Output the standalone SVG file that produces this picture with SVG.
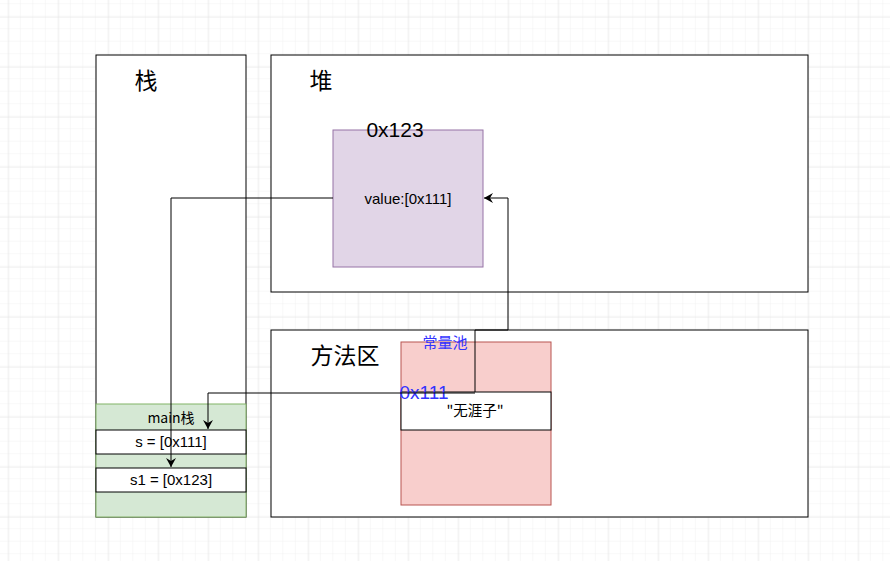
<svg xmlns="http://www.w3.org/2000/svg" width="890" height="561" viewBox="0 0 890 561">
<defs>
<pattern id="minor" x="8.3" y="4.2" width="12.5" height="12.5" patternUnits="userSpaceOnUse">
<path d="M12.5 0V12.5M0 12.5H12.5" fill="none" stroke="#f1f1f1" stroke-width="1"/>
</pattern>
<pattern id="major" x="8.3" y="16.7" width="50" height="50" patternUnits="userSpaceOnUse">
<path d="M0 0V50M0 0H50" fill="none" stroke="#e3e3e3" stroke-width="1"/>
</pattern>
<marker id="arr" markerWidth="10" markerHeight="10" refX="9" refY="5" orient="auto" markerUnits="userSpaceOnUse">
<path d="M0 0L9 5L0 10L3 5Z" fill="#000"/>
</marker>
</defs>
<style>
.box{fill:#fff;stroke:#000;stroke-width:1}
.t{font-family:"Liberation Sans","Noto Sans CJK SC",sans-serif;fill:#000;text-anchor:middle}
.cjk{font-family:"Noto Sans CJK SC","Liberation Sans",sans-serif}
.c{fill:none;stroke:#000;stroke-width:1}
.blue{fill:#3333ff}
</style>
<rect width="890" height="561" fill="#fff"/>
<rect width="890" height="561" fill="url(#minor)"/>
<rect width="890" height="561" fill="url(#major)"/>

<g id="stack">
<rect class="box" x="96" y="55" width="150" height="462"/>
<text class="t cjk" x="146" y="89" font-size="23">栈</text>
</g>
<g id="heap">
<rect class="box" x="271" y="55" width="537" height="237"/>
<text class="t cjk" x="321" y="89" font-size="23">堆</text>
</g>
<g id="method-area">
<rect class="box" x="271" y="330" width="537" height="187"/>
<text class="t cjk" x="345" y="364" font-size="23">方法区</text>
</g>
<g id="heap-object">
<rect x="333" y="130" width="150" height="137" fill="#e1d5e7" stroke="#9673a6"/>
<text class="t" x="395" y="137" font-size="21">0x123</text>
<text class="t" x="408" y="204" font-size="15">value:[0x111]</text>
</g>
<g id="constant-pool">
<rect x="401" y="342" width="150" height="163" fill="#f8cecc" stroke="#b85450"/>
<text class="t cjk blue" x="445" y="348" font-size="15">常量池</text>
</g>
<g id="string">
<rect class="box" x="401" y="392" width="150" height="38"/>
<text class="t blue" x="424" y="399" font-size="19">0x111</text>
<text class="t cjk" x="475" y="416" font-size="14.5">"无涯子"</text>
</g>
<g id="main-frame">
<rect x="96" y="404" width="150" height="113" fill="#d5e8d4" stroke="#82b366"/>
<text class="t cjk" x="171" y="423" font-size="14">main栈</text>
</g>
<g id="var-s">
<rect class="box" x="96" y="430" width="150" height="24"/>
<text class="t" x="171" y="447" font-size="15">s = [0x111]</text>
</g>
<g id="var-s1">
<rect class="box" x="96" y="468" width="150" height="24"/>
<text class="t" x="171" y="485" font-size="15">s1 = [0x123]</text>
</g>
<g id="connectors">
<path class="c" d="M475 392V330H508V198H484" marker-end="url(#arr)"/>
<path class="c" d="M475 393H208V429" marker-end="url(#arr)"/>
<path class="c" d="M333 198H171V467" marker-end="url(#arr)"/>
</g>
</svg>
